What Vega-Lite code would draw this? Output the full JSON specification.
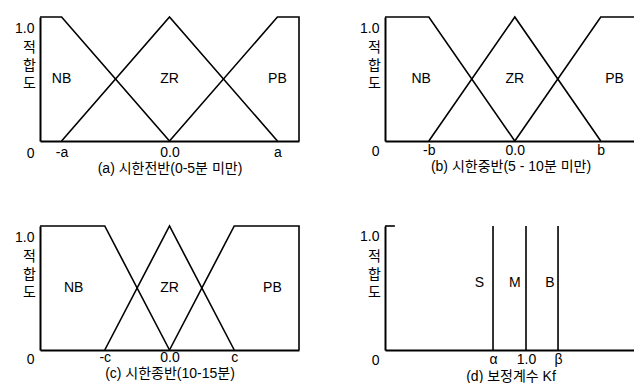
{
  "$schema": "https://vega.github.io/schema/vega-lite/v6.json",
  "padding": {"left": 14, "top": 13, "right": 0, "bottom": 0},
  "background": "white",
  "columns": 2,
  "spacing": {"row": 85, "column": 86},
  "bounds": "flush",
  "config": {
    "view": {"stroke": null},
    "font": "Liberation Sans, Noto Sans CJK KR",
    "axis": {
      "grid": false,
      "ticks": false,
      "domainColor": "black",
      "domainWidth": 2,
      "labelColor": "black",
      "labelFont": "Liberation Sans, Noto Sans CJK KR",
      "labelFontSize": 14,
      "labelOverlap": false,
      "labelFlush": false,
      "labelBound": false,
      "titleColor": "black",
      "titleFont": "Liberation Sans, Noto Sans CJK KR",
      "titleFontSize": 14,
      "titleFontWeight": "normal"
    },
    "axisY": {
      "labelPadding": 6,
      "titleAngle": 0,
      "titleX": -11,
      "titleY": 30,
      "titleAlign": "center",
      "titleBaseline": "middle",
      "titleLineHeight": 18,
      "titleFontSize": 14
    },
    "text": {"fontSize": 14, "color": "black", "font": "Liberation Sans"},
    "line": {"color": "black", "strokeWidth": 1.6}
  },
  "concat": [
    {
      "width": 259,
      "height": 124,
      "data": {"values": [
        {"s": "NB", "i": 0, "x": -1.2, "y": 1},
        {"s": "NB", "i": 1, "x": -1, "y": 1},
        {"s": "NB", "i": 2, "x": 0, "y": 0},
        {"s": "ZR", "i": 0, "x": -1, "y": 0},
        {"s": "ZR", "i": 1, "x": 0, "y": 1},
        {"s": "ZR", "i": 2, "x": 1, "y": 0},
        {"s": "PB", "i": 0, "x": 0, "y": 0},
        {"s": "PB", "i": 1, "x": 1, "y": 1},
        {"s": "PB", "i": 2, "x": 1.2, "y": 1},
        {"s": "PB", "i": 3, "x": 1.2, "y": 0}
      ]},
      "layer": [
        {
          "mark": {"type": "line", "clip": false},
          "encoding": {
            "x": {"field": "x", "type": "quantitative", "scale": {"domain": [-1.2, 1.2], "nice": false, "zero": false},
              "axis": {"values": [-1, 0, 1], "labelExpr": "datum.value < 0 ? '-a' : datum.value > 0 ? 'a' : '0.0'", "labelPadding": 4, "titlePadding": 2, "title": "(a) 시한전반(0-5분 미만)"}},
            "y": {"field": "y", "type": "quantitative", "scale": {"domain": [0, 1], "nice": false},
              "axis": {"values": [0, 1], "labelExpr": "datum.value == 1 ? '1.0' : '0'", "labelOffset": {"condition": {"test": "datum.value == 0", "value": 12}, "value": 11}, "title": ["적", "합", "도"]}},
            "detail": {"field": "s"},
            "order": {"field": "i"}
          }
        },
        {
          "data": {"values": [
            {"t": "NB", "x": -1, "y": 0.5},
            {"t": "ZR", "x": 0, "y": 0.5},
            {"t": "PB", "x": 1, "y": 0.5}
          ]},
          "mark": {"type": "text"},
          "encoding": {
            "x": {"field": "x", "type": "quantitative"},
            "y": {"field": "y", "type": "quantitative"},
            "text": {"field": "t"}
          }
        }
      ]
    },
    {
      "width": 251,
      "height": 124,
      "data": {"values": [
        {"s": "NB", "i": 0, "x": -1.51, "y": 1},
        {"s": "NB", "i": 1, "x": -1, "y": 1},
        {"s": "NB", "i": 2, "x": 0, "y": 0},
        {"s": "ZR", "i": 0, "x": -1, "y": 0},
        {"s": "ZR", "i": 1, "x": 0, "y": 1},
        {"s": "ZR", "i": 2, "x": 1, "y": 0},
        {"s": "PB", "i": 0, "x": 0, "y": 0},
        {"s": "PB", "i": 1, "x": 1, "y": 1},
        {"s": "PB", "i": 2, "x": 1.41, "y": 1}
      ]},
      "layer": [
        {
          "mark": {"type": "line", "clip": false},
          "encoding": {
            "x": {"field": "x", "type": "quantitative", "scale": {"domain": [-1.51, 1.41], "nice": false, "zero": false},
              "axis": {"values": [-1, 0, 1], "labelExpr": "datum.value < 0 ? '-b' : datum.value > 0 ? 'b' : '0.0'", "labelPadding": 2, "titlePadding": 2, "title": "(b) 시한중반(5 - 10분 미만)"}},
            "y": {"field": "y", "type": "quantitative", "scale": {"domain": [0, 1], "nice": false},
              "axis": {"values": [0, 1], "labelExpr": "datum.value == 1 ? '1.0' : '0'", "labelOffset": {"condition": {"test": "datum.value == 0", "value": 10}, "value": 11}, "title": ["적", "합", "도"]}},
            "detail": {"field": "s"},
            "order": {"field": "i"}
          }
        },
        {
          "data": {"values": [
            {"t": "NB", "x": -1.09, "y": 0.5},
            {"t": "ZR", "x": 0, "y": 0.5},
            {"t": "PB", "x": 1.16, "y": 0.5}
          ]},
          "mark": {"type": "text"},
          "encoding": {
            "x": {"field": "x", "type": "quantitative"},
            "y": {"field": "y", "type": "quantitative"},
            "text": {"field": "t"}
          }
        }
      ]
    },
    {
      "width": 259,
      "height": 124,
      "data": {"values": [
        {"s": "NB", "i": 0, "x": -2, "y": 1},
        {"s": "NB", "i": 1, "x": -1, "y": 1},
        {"s": "NB", "i": 2, "x": 0, "y": 0},
        {"s": "ZR", "i": 0, "x": -1, "y": 0},
        {"s": "ZR", "i": 1, "x": 0, "y": 1},
        {"s": "ZR", "i": 2, "x": 1, "y": 0},
        {"s": "PB", "i": 0, "x": 0, "y": 0},
        {"s": "PB", "i": 1, "x": 1, "y": 1},
        {"s": "PB", "i": 2, "x": 2, "y": 1},
        {"s": "PB", "i": 3, "x": 2, "y": 0}
      ]},
      "layer": [
        {
          "mark": {"type": "line", "clip": false},
          "encoding": {
            "x": {"field": "x", "type": "quantitative", "scale": {"domain": [-2, 2], "nice": false, "zero": false},
              "axis": {"values": [-1, 0, 1], "labelExpr": "datum.value < 0 ? '-c' : datum.value > 0 ? 'c' : '0.0'", "labelPadding": 0, "titlePadding": 2, "title": "(c) 시한종반(10-15분)"}},
            "y": {"field": "y", "type": "quantitative", "scale": {"domain": [0, 1], "nice": false},
              "axis": {"values": [0, 1], "labelExpr": "datum.value == 1 ? '1.0' : '0'", "labelOffset": {"condition": {"test": "datum.value == 0", "value": 9}, "value": 11}, "title": ["적", "합", "도"]}},
            "detail": {"field": "s"},
            "order": {"field": "i"}
          }
        },
        {
          "data": {"values": [
            {"t": "NB", "x": -1.48, "y": 0.5},
            {"t": "ZR", "x": 0, "y": 0.5},
            {"t": "PB", "x": 1.59, "y": 0.5}
          ]},
          "mark": {"type": "text"},
          "encoding": {
            "x": {"field": "x", "type": "quantitative"},
            "y": {"field": "y", "type": "quantitative"},
            "text": {"field": "t"}
          }
        }
      ]
    },
    {
      "width": 251,
      "height": 124,
      "data": {"values": [
        {"s": "tick", "i": 0, "x": 0, "y": 1},
        {"s": "tick", "i": 1, "x": 0.07, "y": 1},
        {"s": "S", "i": 0, "x": 0.766, "y": 0},
        {"s": "S", "i": 1, "x": 0.766, "y": 1},
        {"s": "M", "i": 0, "x": 1.0, "y": 0},
        {"s": "M", "i": 1, "x": 1.0, "y": 1},
        {"s": "B", "i": 0, "x": 1.227, "y": 0},
        {"s": "B", "i": 1, "x": 1.227, "y": 1}
      ]},
      "layer": [
        {
          "mark": {"type": "line", "clip": false},
          "encoding": {
            "x": {"field": "x", "type": "quantitative", "scale": {"domain": [0, 1.78], "nice": false, "zero": false},
              "axis": {"values": [0.766, 1.0, 1.227], "labelExpr": "datum.value < 0.9 ? 'α' : datum.value > 1.1 ? 'β' : '1.0'", "labelPadding": 2, "titlePadding": 3, "title": "(d) 보정계수 Kf"}},
            "y": {"field": "y", "type": "quantitative", "scale": {"domain": [0, 1], "nice": false},
              "axis": {"values": [0, 1], "labelExpr": "datum.value == 1 ? '1.0' : '0'", "labelOffset": {"condition": {"test": "datum.value == 0", "value": 10}, "value": 10}, "title": ["적", "합", "도"]}},
            "detail": {"field": "s"},
            "order": {"field": "i"}
          }
        },
        {
          "data": {"values": [
            {"t": "S", "x": 0.67, "y": 0.54},
            {"t": "M", "x": 0.92, "y": 0.54},
            {"t": "B", "x": 1.17, "y": 0.54}
          ]},
          "mark": {"type": "text"},
          "encoding": {
            "x": {"field": "x", "type": "quantitative"},
            "y": {"field": "y", "type": "quantitative"},
            "text": {"field": "t"}
          }
        }
      ]
    }
  ]
}
